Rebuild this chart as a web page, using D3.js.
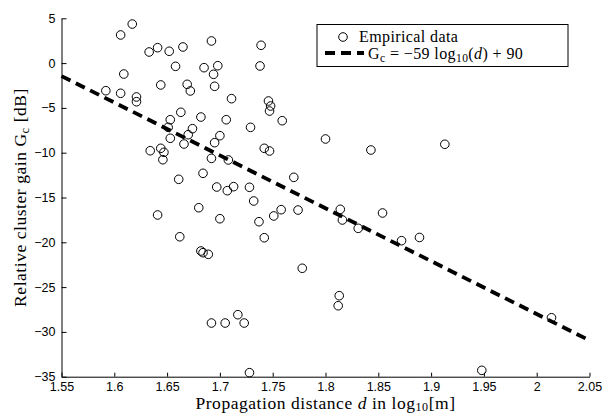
<!DOCTYPE html>
<html>
<head>
<meta charset="utf-8">
<script src="https://cdn.jsdelivr.net/npm/d3@7/dist/d3.min.js"></script>
<style>
  body { margin: 0; background: #fff; }
  .tick text { font-family: "Liberation Sans", Arial, sans-serif; font-size: 12.5px; fill: #000; }
  .serif { font-family: "Liberation Serif", "DejaVu Serif", serif; fill: #000; }
</style>
</head>
<body>
<svg id="chart"></svg>
<script>
// log10 distance of each measurement
const distLog = [
  1.617, 1.606, 1.692, 1.633, 1.641, 1.652, 1.665, 1.658, 1.685, 1.698,
  1.694, 1.609, 1.644, 1.669, 1.672, 1.695, 1.592, 1.606, 1.621, 1.621,
  1.711, 1.663, 1.653, 1.682, 1.706, 1.651, 1.674, 1.670, 1.700, 1.653,
  1.695, 1.666, 1.634, 1.644, 1.647, 1.646, 1.692, 1.708, 1.684, 1.661,
  1.697, 1.713, 1.707, 1.680, 1.641, 1.700, 1.662, 1.682, 1.684, 1.689,
  1.692, 1.705, 1.717, 1.739, 1.738, 1.746, 1.748, 1.747, 1.759, 1.729,
  1.800, 1.742, 1.747, 1.843, 1.770, 1.728, 1.732, 1.758, 1.774, 1.751,
  1.737, 1.742, 1.814, 1.816, 1.831, 1.854, 1.872, 1.778, 1.813, 1.812,
  1.723, 1.728, 1.913, 1.889, 2.014, 1.948
]
// relative cluster gain in dB
const gainDb = [
  4.36, 3.14, 2.47, 1.24, 1.72, 1.32, 1.80, -0.36, -0.51, -0.29,
  -1.25, -1.22, -2.44, -2.37, -3.11, -2.59, -3.08, -3.37, -3.78, -4.31,
  -3.97, -5.49, -6.32, -6.02, -6.32, -7.17, -7.32, -7.99, -8.10, -8.39,
  -8.88, -9.03, -9.78, -9.51, -9.96, -10.78, -10.63, -10.81, -12.30, -12.97,
  -13.83, -13.79, -14.24, -16.14, -16.95, -17.37, -19.38, -20.97, -21.16, -21.34,
  -29.01, -29.01, -28.08, 1.99, -0.32, -4.23, -4.79, -5.35, -6.43, -7.17,
  -8.47, -9.51, -9.81, -9.70, -12.75, -13.86, -15.39, -16.36, -16.40, -17.06,
  -17.70, -19.49, -16.32, -17.51, -18.44, -16.73, -19.82, -22.90, -25.96, -27.08,
  -29.01, -34.55, -9.06, -19.46, -28.42, -34.29
]
// fitted model Gc = -59 log10(d) + 90
const fitSlope = -59
const fitIntercept = 90
const xTicks = [1.55, 1.6, 1.65, 1.7, 1.75, 1.8, 1.85, 1.9, 1.95, 2, 2.05]
const yTicks = [5, 0, -5, -10, -15, -20, -25, -30, -35]

const width = 613
const height = 414
const margin = { top: 18.3, right: 23.5, bottom: 37.3, left: 61.5 }

const svg = d3.select('#chart')
  .attr('width', width)
  .attr('height', height)

const x = d3.scaleLinear().domain([1.55, 2.05]).range([margin.left, width - margin.right])
const y = d3.scaleLinear().domain([-35, 5]).range([height - margin.bottom, margin.top])

const fmt = d => String(d).replace('-', '\u2212')

// axes, MATLAB style: ticks pointing inward
svg.append('g')
  .attr('transform', `translate(0,${height - margin.bottom})`)
  .call(d3.axisBottom(x).tickValues(xTicks).tickSize(-4).tickPadding(5)
    .tickFormat(fmt).tickSizeOuter(0))
svg.append('g')
  .attr('transform', `translate(${margin.left},0)`)
  .call(d3.axisLeft(y).tickValues(yTicks).tickSize(-5).tickPadding(6)
    .tickFormat(fmt).tickSizeOuter(0))
svg.selectAll('.domain').attr('stroke', '#000').attr('stroke-width', 1)
svg.selectAll('.tick line').attr('stroke', '#000')

const data = distLog.map((d, i) => [d, gainDb[i]])

// fit line
const fitLine = d3.line().x(d => x(d)).y(d => y(fitSlope * d + fitIntercept))
svg.append('path')
  .datum(x.domain())
  .attr('d', fitLine)
  .attr('fill', 'none')
  .attr('stroke', '#000')
  .attr('stroke-width', 3.8)
  .attr('stroke-dasharray', '10,6')

// empirical points
svg.append('g')
  .selectAll('circle')
  .data(data)
  .join('circle')
  .attr('cx', d => x(d[0]))
  .attr('cy', d => y(d[1]))
  .attr('r', 4.3)
  .attr('fill', 'none')
  .attr('stroke', '#000')
  .attr('stroke-width', 1)

// legend
const legend = svg.append('g').attr('transform', 'translate(317,24.5)')
legend.append('rect')
  .attr('width', 251).attr('height', 42)
  .attr('fill', '#fff').attr('stroke', '#000').attr('stroke-width', 1)
legend.append('circle')
  .attr('cx', 26).attr('cy', 12.5).attr('r', 4.3)
  .attr('fill', 'none').attr('stroke', '#000')
legend.append('text').attr('class', 'serif')
  .attr('x', 42).attr('y', 17).attr('font-size', 16).attr('letter-spacing', 0.4)
  .text('Empirical data')
legend.append('line')
  .attr('x1', 8).attr('x2', 47).attr('y1', 28.5).attr('y2', 28.5)
  .attr('stroke', '#000').attr('stroke-width', 3.8).attr('stroke-dasharray', '10,6')
const eq = legend.append('text').attr('class', 'serif')
  .attr('x', 51).attr('y', 34).attr('font-size', 16).attr('letter-spacing', 0.4)
eq.append('tspan').text('G')
eq.append('tspan').attr('font-size', 11.5).attr('dy', 3).text('c')
eq.append('tspan').attr('dy', -3).text(' = \u221259 log')
eq.append('tspan').attr('font-size', 11.5).attr('dy', 3.5).text('10')
eq.append('tspan').attr('dy', -3.5).text('(')
eq.append('tspan').attr('font-style', 'italic').text('d')
eq.append('tspan').text(') + 90')

// axis labels
const xLabel = svg.append('text').attr('class', 'serif')
  .attr('x', (margin.left + width - margin.right) / 2)
  .attr('y', 409).attr('text-anchor', 'middle').attr('font-size', 17.5)
  .attr('letter-spacing', 0.55)
xLabel.append('tspan').text('Propagation distance ')
xLabel.append('tspan').attr('font-style', 'italic').text('d')
xLabel.append('tspan').text(' in log')
xLabel.append('tspan').attr('font-size', 12).attr('dy', 2).text('10')
xLabel.append('tspan').attr('dy', -2).text('[m]')

const yLabel = svg.append('text').attr('class', 'serif')
  .attr('transform', `translate(26,${(margin.top + height - margin.bottom) / 2}) rotate(-90)`)
  .attr('text-anchor', 'middle').attr('font-size', 17.5)
  .attr('letter-spacing', 0.55)
yLabel.append('tspan').text('Relative cluster gain G')
yLabel.append('tspan').attr('font-size', 12.5).attr('dy', 3).text('c')
yLabel.append('tspan').attr('dy', -3).text(' [dB]')
</script>
</body>
</html>
